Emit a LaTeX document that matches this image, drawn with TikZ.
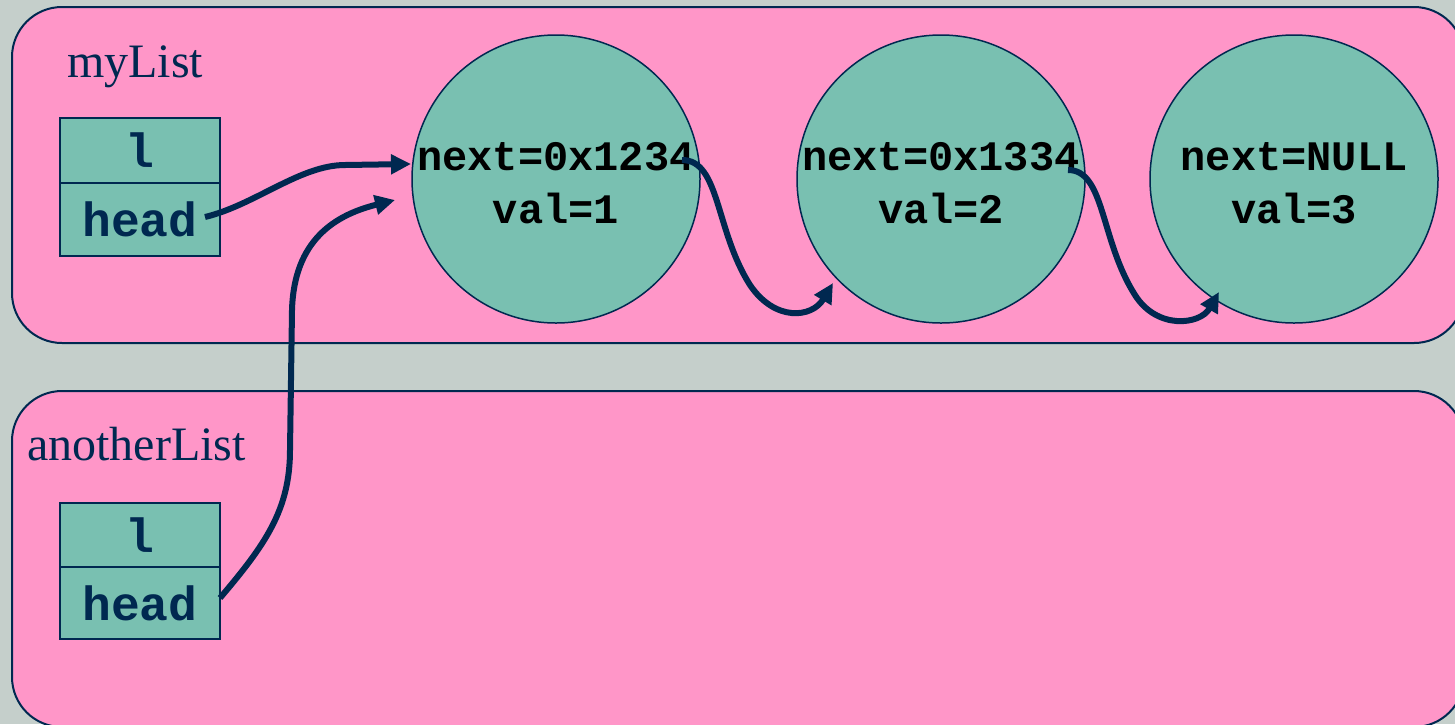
\documentclass[tikz,border=0pt]{standalone}
\usepackage{fontspec}
\setmainfont{Liberation Serif}
\newfontfamily\codefont{Liberation Mono}
\usetikzlibrary{arrows.meta}
\definecolor{bg}{RGB}{197,207,203}
\definecolor{panel}{RGB}{255,150,200}
\definecolor{cell}{RGB}{121,192,177}
\definecolor{navy}{RGB}{0,40,80}
\tikzset{
  panelbox/.style={draw=navy, line width=2pt, fill=panel, rounded corners=50pt},
  cellbox/.style={draw=navy, line width=2pt, fill=cell, minimum width=160pt, inner sep=0pt, text=navy, font=\codefont\bfseries\fontsize{48}{48}\selectfont},
  nodecirc/.style={circle, draw=navy, line width=1.5pt, fill=cell, minimum size=288pt, inner sep=0pt},
  circtext/.style={anchor=base, inner sep=0pt, text=black, font=\codefont\bfseries\fontsize{42}{42}\selectfont},
  label/.style={anchor=base west, inner sep=0pt, text=navy, font=\fontsize{48}{48}\selectfont},
  ptr/.style={draw=navy, line width=6pt, -{Triangle[length=20pt,width=19pt]}},
}
\begin{document}
\begin{tikzpicture}[x=1pt,y=-1pt]
\useasboundingbox (0,0) rectangle (1455,724);
\fill[bg] (0,0) rectangle (1455,724);
% panels
\draw[panelbox] (12,7) rectangle (1464,343);
\draw[panelbox] (12,391) rectangle (1464,727);
% labels
\node[label] (lab1) at (67,77) {myList};
\node[label] (lab2) at (27,460) {anotherList};
% boxes
\node[cellbox, minimum height=65pt] (l1) at (140,150.5) {l};
\node[cellbox, minimum height=73pt] (h1) at (140,219.5) {head};
\node[cellbox, minimum height=64pt] (l2) at (140,535) {l};
\node[cellbox, minimum height=72pt] (h2) at (140,603) {head};
% circles
\node[nodecirc] (c1) at (556,179) {};
\node[nodecirc] (c2) at (941,179) {};
\node[nodecirc] (c3) at (1294,179) {};
\node[circtext] (n1) at (556,170) {next=0x1234};
\node[circtext] (v1) at (556,223) {val=1};
\node[circtext] (n2) at (941,170) {next=0x1334};
\node[circtext] (v2) at (941,223) {val=2};
\node[circtext] (n3) at (1294,170) {next=NULL};
\node[circtext] (v3) at (1294,223) {val=3};
% pointer ends
\coordinate (s1) at (205,217);
\coordinate (t1) at (411,164);
\coordinate (s2) at (220,598);
\coordinate (t2) at (395,200);
\coordinate (s3) at (682,160);
\coordinate (t3) at (833,283);
\coordinate (s4) at (1068,170);
\coordinate (t4) at (1219,292);
% pointers
\draw[ptr] (s1) .. controls (255,205) and (300,165) .. (345,165) -- (t1);
\draw[ptr] (s2) .. controls (265,545) and (290,510) .. (290,450) -- (292,310) .. controls (294,240) and (335,215) .. (t2);
\draw[ptr] (s3) .. controls (720,160) and (715,230) .. (750,285) .. controls (775,322) and (812,318) .. (t3);
\draw[ptr] (s4) .. controls (1105,170) and (1100,240) .. (1135,295) .. controls (1157,330) and (1200,325) .. (t4);
\end{tikzpicture}
\end{document}
